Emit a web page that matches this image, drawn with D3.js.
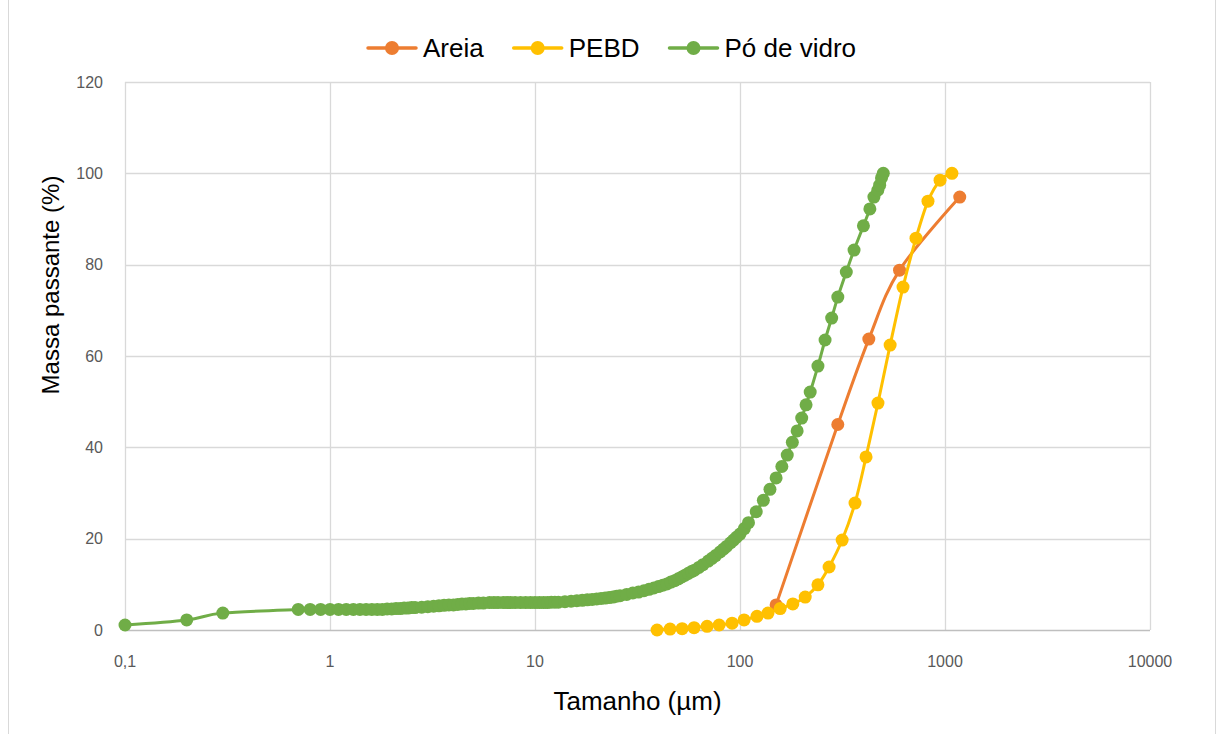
<!DOCTYPE html>
<html>
<head>
<meta charset="utf-8">
<script src="https://cdn.jsdelivr.net/npm/d3@7"></script>
<style>
    body { margin: 0; background: #fff; }
    #chart { width: 1216px; height: 734px; }
</style>
</head>
<body>
<div id="chart"></div>
<script>
// Series names
const seriesNames = ["Areia", "PEBD", "Pó de vidro"];

// Areia (sieve sizes, µm / % passing)
const areiaSize = [150, 300, 425, 600, 1180];
const areiaPass = [5.5, 45.0, 63.7, 78.8, 94.8];

// PEBD
const pebdSize = [39.4, 45.6, 52.2, 59.7, 69.1, 79.1, 91.5, 104.7, 121, 137, 157, 181, 208, 240, 272, 315, 364, 412, 471, 540, 624, 722, 826, 946, 1081];
const pebdPass = [0.0, 0.2, 0.3, 0.5, 0.8, 1.1, 1.5, 2.2, 3.0, 3.7, 4.7, 5.7, 7.2, 9.9, 13.8, 19.7, 27.8, 37.9, 49.7, 62.4, 75.1, 85.8, 93.9, 98.5, 100];

// Pó de vidro (laser granulometry)
const vidroSize = [0.1, 0.2, 0.3, 0.7, 0.8, 0.9, 1.0, 1.1, 1.2, 1.3, 1.4, 1.5, 1.6, 1.7, 1.8, 1.9, 2.0, 2.1, 2.2, 2.3, 2.4, 2.5, 2.6, 2.8, 3.0, 3.2, 3.4, 3.6, 3.8, 4.0,
    4.2, 4.4, 4.6, 4.8, 5.0, 5.3, 5.6, 6.0, 6.3, 6.6, 7.0, 7.3, 7.6, 8.0, 8.5, 9.0, 9.5, 10, 10.5, 11, 11.5, 12, 12.5, 13, 14, 15, 16, 17, 18, 19,
    20, 21, 22, 23, 24, 25, 26, 28, 30, 32, 34, 36, 38, 40, 42, 44, 46, 48, 50, 52, 54, 56, 58, 60, 63, 66, 70, 73, 76, 80,
    83, 86, 90, 93, 96, 100, 105, 110, 120, 130, 140, 150, 160, 170, 180, 190, 200, 210, 220, 240, 260, 280, 300, 330, 360, 400, 430, 450, 470, 480,
    490, 500];
const vidroPass = [1.1, 2.2, 3.7, 4.5, 4.5, 4.5, 4.5, 4.5, 4.5, 4.5, 4.5, 4.5, 4.5, 4.5, 4.5, 4.6, 4.6, 4.7, 4.7, 4.8, 4.8, 4.9, 4.9, 5.0, 5.1, 5.2, 5.3, 5.4, 5.5, 5.5,
    5.6, 5.7, 5.7, 5.8, 5.8, 5.9, 5.9, 6.0, 6.0, 6.0, 6.0, 6.0, 6.0, 6.0, 6.0, 6.0, 6.0, 6.0, 6.0, 6.0, 6.0, 6.1, 6.1, 6.1, 6.2, 6.3, 6.4, 6.5, 6.6, 6.7,
    6.8, 6.9, 7.0, 7.1, 7.2, 7.4, 7.5, 7.8, 8.1, 8.3, 8.6, 8.9, 9.2, 9.5, 9.8, 10.1, 10.5, 10.8, 11.2, 11.6, 12.0, 12.4, 12.8, 13.1, 13.7, 14.3, 15.1, 15.7, 16.3, 17.1,
    17.7, 18.3, 19.1, 19.7, 20.3, 21.0, 22.2, 23.5, 25.9, 28.4, 30.8, 33.3, 35.8, 38.3, 41.1, 43.6, 46.4, 49.3, 52.1, 57.8, 63.5, 68.3, 72.9, 78.4, 83.2, 88.5, 92.2, 94.8, 96.3, 97.4,
    99.0, 100];

// Axis ticks
const xTicks = [0.1, 1, 10, 100, 1000, 10000];
const xTickLabels = ["0,1", "1", "10", "100", "1000", "10000"];
const yTicks = [0, 20, 40, 60, 80, 100, 120];

const colors = ["#ED7D31", "#FFC000", "#70AD47"];

const series = [
    {name: seriesNames[0], color: colors[0], values: areiaSize.map((s, i) => ({x: s, y: areiaPass[i]}))},
    {name: seriesNames[1], color: colors[1], values: pebdSize.map((s, i) => ({x: s, y: pebdPass[i]}))},
    {name: seriesNames[2], color: colors[2], values: vidroSize.map((s, i) => ({x: s, y: vidroPass[i]}))}
];

const W = 1216, H = 734;
const plot = {left: 125, right: 1150, top: 82, bottom: 630};

const svg = d3.select("#chart").append("svg")
    .attr("width", W)
    .attr("height", H)
    .style("font-family", "'Liberation Sans', Arial, sans-serif");

// outer chart frame
svg.append("rect")
    .attr("x", 8.5).attr("y", -0.5)
    .attr("width", W - 9).attr("height", H + 2)
    .attr("fill", "none")
    .attr("stroke", "#d9d9d9");

const x = d3.scaleLog().domain([0.1, 10000]).range([plot.left, plot.right]);
const y = d3.scaleLinear().domain([0, 120]).range([plot.bottom, plot.top]);

// gridlines
svg.append("g").selectAll("line.v")
    .data(xTicks)
    .join("line")
    .attr("x1", d => Math.round(x(d)) + 0.5).attr("x2", d => Math.round(x(d)) + 0.5)
    .attr("y1", plot.top).attr("y2", plot.bottom)
    .attr("stroke", "#d9d9d9").attr("stroke-width", 1.3);

svg.append("g").selectAll("line.h")
    .data(yTicks.filter(d => d > 0))
    .join("line")
    .attr("x1", plot.left).attr("x2", plot.right)
    .attr("y1", d => Math.round(y(d)) + 0.5).attr("y2", d => Math.round(y(d)) + 0.5)
    .attr("stroke", "#d9d9d9").attr("stroke-width", 1.3);

// x axis baseline
svg.append("line")
    .attr("x1", plot.left).attr("x2", plot.right)
    .attr("y1", plot.bottom + 0.5).attr("y2", plot.bottom + 0.5)
    .attr("stroke", "#bfbfbf").attr("stroke-width", 1.3);

// tick labels
svg.append("g").selectAll("text")
    .data(yTicks)
    .join("text")
    .attr("x", plot.left - 22)
    .attr("y", d => y(d))
    .attr("dy", "0.35em")
    .attr("text-anchor", "end")
    .attr("fill", "#595959")
    .attr("font-size", 16)
    .text(d => d);

svg.append("g").selectAll("text")
    .data(xTicks)
    .join("text")
    .attr("x", d => x(d))
    .attr("y", plot.bottom + 31)
    .attr("dy", "0.35em")
    .attr("text-anchor", "middle")
    .attr("fill", "#595959")
    .attr("font-size", 16)
    .text((d, i) => xTickLabels[i]);

// axis titles
svg.append("text")
    .attr("x", (plot.left + plot.right) / 2)
    .attr("y", 701)
    .attr("dy", "0.35em")
    .attr("text-anchor", "middle")
    .attr("font-size", 26)
    .attr("fill", "#000")
    .text("Tamanho (µm)");

svg.append("text")
    .attr("transform", `translate(51, 285) rotate(-90)`)
    .attr("dy", "0.35em")
    .attr("text-anchor", "middle")
    .attr("font-size", 24)
    .attr("fill", "#000")
    .text("Massa passante (%)");

// series lines + markers (Excel-like smoothed lines)
const line = d3.line()
    .x(d => x(d.x))
    .y(d => y(d.y))
    .curve(d3.curveCardinal.tension(0));

series.forEach(s => {
    const g = svg.append("g");
    g.append("path")
        .datum(s.values)
        .attr("d", line)
        .attr("fill", "none")
        .attr("stroke", s.color)
        .attr("stroke-width", 3)
        .attr("stroke-linejoin", "round");
    g.selectAll("circle")
        .data(s.values)
        .join("circle")
        .attr("cx", d => x(d.x))
        .attr("cy", d => y(d.y))
        .attr("r", 6.5)
        .attr("fill", s.color);
});

// legend
const legend = svg.append("g");
let cursor = 0;
series.forEach(s => {
    const item = legend.append("g").attr("transform", `translate(${cursor}, 0)`);
    item.append("line")
        .attr("x1", 0).attr("x2", 48)
        .attr("stroke", s.color).attr("stroke-width", 3.5)
        .attr("stroke-linecap", "round");
    item.append("circle")
        .attr("cx", 24).attr("r", 7).attr("fill", s.color);
    const t = item.append("text")
        .attr("x", 55)
        .attr("dy", "0.35em")
        .attr("font-size", 26)
        .attr("fill", "#000")
        .text(s.name);
    cursor += 55 + t.node().getComputedTextLength() + 30;
});
legend.attr("transform", `translate(368, 48)`);
</script>
</body>
</html>
